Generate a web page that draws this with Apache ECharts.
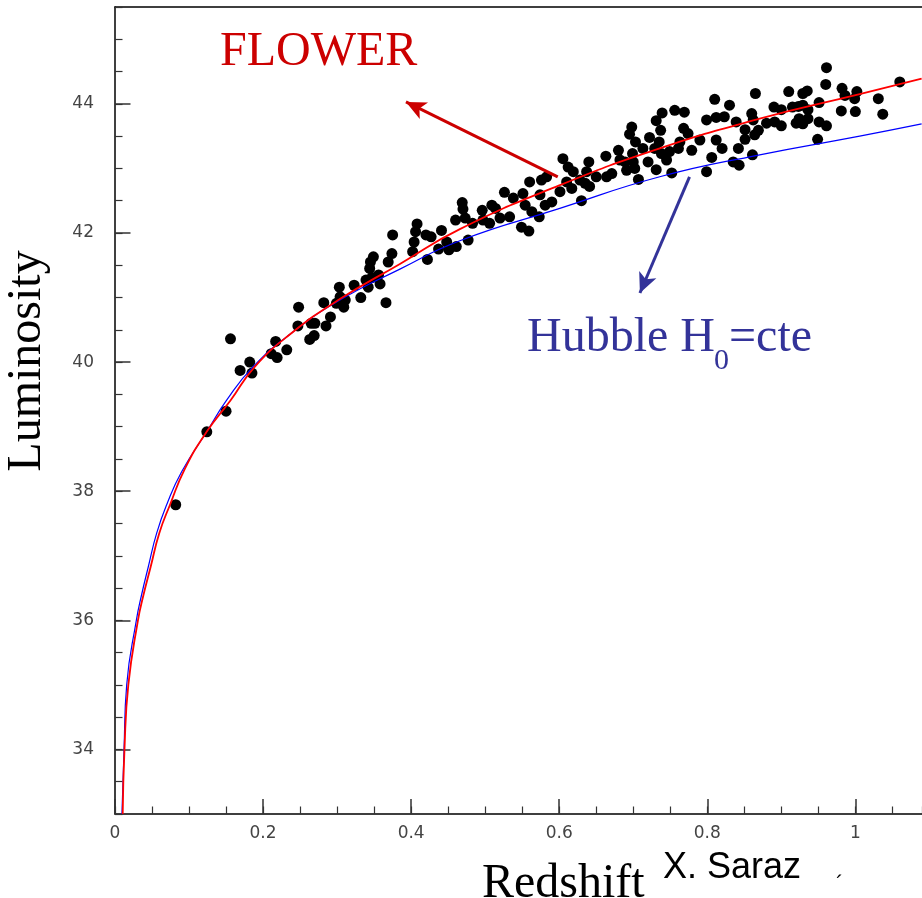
<!DOCTYPE html>
<html>
<head>
<meta charset="utf-8">
<script src="https://cdn.jsdelivr.net/npm/echarts@6/dist/echarts.min.js"></script>
<style>
  html, body { margin: 0; padding: 0; background: #fff; }
  #chart { width: 922px; height: 898px; }
</style>
</head>
<body>
<div id="chart"></div>
<script>
// supernova points: [redshift, luminosity]
const snPoints = [
  [0.082, 37.79], [0.124, 38.92], [0.150, 39.24], [0.156, 40.36], [0.169, 39.87],
  [0.182, 40.00], [0.185, 39.83], [0.211, 40.13], [0.217, 40.32], [0.219, 40.07],
  [0.232, 40.19], [0.247, 40.56], [0.248, 40.85], [0.263, 40.35], [0.269, 40.41],
  [0.265, 40.60], [0.270, 40.60], [0.282, 40.92], [0.291, 40.70], [0.285, 40.56],
  [0.299, 40.91], [0.303, 41.16], [0.304, 41.01], [0.311, 40.96], [0.309, 40.85],
  [0.323, 41.19], [0.332, 41.00], [0.339, 41.27], [0.342, 41.16], [0.347, 41.31],
  [0.358, 41.21], [0.356, 41.35], [0.344, 41.45], [0.349, 41.63], [0.345, 41.55],
  [0.366, 40.92], [0.369, 41.55], [0.374, 41.68], [0.375, 41.97], [0.402, 41.71],
  [0.404, 41.86], [0.406, 42.02], [0.408, 42.14], [0.420, 41.97], [0.427, 41.94],
  [0.422, 41.59], [0.437, 41.75], [0.441, 42.04], [0.448, 41.86], [0.451, 41.74],
  [0.461, 41.79], [0.460, 42.20], [0.469, 42.47], [0.470, 42.37], [0.473, 42.23],
  [0.477, 41.89], [0.483, 42.15], [0.496, 42.35], [0.497, 42.20], [0.509, 42.43],
  [0.514, 42.38], [0.506, 42.15], [0.520, 42.23], [0.533, 42.25], [0.526, 42.63],
  [0.538, 42.54], [0.549, 42.09], [0.559, 42.03], [0.551, 42.61], [0.554, 42.43],
  [0.560, 42.79], [0.563, 42.33], [0.573, 42.25], [0.576, 42.82], [0.574, 42.59],
  [0.583, 42.87], [0.590, 42.48], [0.581, 42.43], [0.605, 43.15], [0.612, 43.02],
  [0.619, 42.95], [0.610, 42.79], [0.601, 42.64], [0.617, 42.69], [0.630, 42.50],
  [0.640, 43.10], [0.637, 42.95], [0.641, 42.72], [0.650, 42.87], [0.663, 43.19],
  [0.664, 42.87], [0.635, 42.77], [0.628, 42.82], [0.671, 42.92], [0.680, 43.28],
  [0.682, 43.13], [0.691, 42.97], [0.689, 43.10], [0.699, 43.23], [0.700, 43.10],
  [0.702, 43.00], [0.707, 42.83], [0.695, 43.53], [0.698, 43.64], [0.703, 43.41],
  [0.713, 43.31], [0.720, 43.10], [0.722, 43.48], [0.729, 43.31], [0.731, 42.98],
  [0.735, 43.41], [0.738, 43.23], [0.745, 43.13], [0.749, 43.26], [0.752, 42.93],
  [0.737, 43.59], [0.731, 43.74], [0.739, 43.86], [0.756, 43.90], [0.769, 43.87],
  [0.768, 43.62], [0.774, 43.54], [0.763, 43.41], [0.761, 43.31], [0.779, 43.28],
  [0.790, 43.44], [0.799, 43.75], [0.806, 43.17], [0.799, 42.95], [0.810, 44.07],
  [0.812, 43.79], [0.823, 43.80], [0.830, 43.98], [0.812, 43.44], [0.820, 43.31],
  [0.835, 43.10], [0.843, 43.05], [0.842, 43.31], [0.839, 43.72], [0.851, 43.60],
  [0.851, 43.45], [0.860, 43.85], [0.864, 43.52], [0.861, 43.21], [0.865, 44.16],
  [0.862, 43.75], [0.869, 43.59], [0.880, 43.70], [0.890, 43.95], [0.891, 43.72],
  [0.900, 43.66], [0.900, 43.91], [0.910, 44.19], [0.915, 43.95], [0.923, 43.96],
  [0.929, 43.98], [0.920, 43.70], [0.924, 43.77], [0.929, 43.69], [0.936, 43.77],
  [0.936, 43.91], [0.929, 44.16], [0.935, 44.20], [0.949, 43.45], [0.951, 43.72],
  [0.961, 43.66], [0.951, 44.02], [0.960, 44.30], [0.961, 44.56], [0.982, 44.24],
  [0.986, 44.13], [0.981, 43.89], [0.999, 44.08], [1.002, 44.19], [1.000, 43.88],
  [1.031, 44.08], [1.037, 43.84], [1.060, 44.34]
];

// FLOWER model curve (red)
const flowerZ = [0.0104, 0.0128, 0.018, 0.031, 0.0382, 0.0482, 0.0598, 0.0743, 0.0945,
  0.1238, 0.1562, 0.189, 0.2386, 0.3015, 0.3848, 0.4658, 0.6008, 0.7358, 0.8708, 1.0058, 1.0895];
const flowerL = [33.0, 34.0, 35.0, 36.0, 36.38, 36.83, 37.35, 37.79, 38.35,
  38.92, 39.41, 39.93, 40.45, 40.96, 41.52, 42.06, 42.74, 43.31, 43.77, 44.15, 44.39];

// Hubble H0 = const curve (blue)
const hubbleZ = [0.0094, 0.0122, 0.0158, 0.0288, 0.036, 0.045, 0.0563, 0.0698, 0.090,
  0.1238, 0.1508, 0.1867, 0.2386, 0.3038, 0.3848, 0.4658, 0.6008, 0.7358, 0.8708, 1.0058, 1.0895];
const hubbleL = [33.0, 34.0, 35.0, 36.0, 36.40, 36.83, 37.35, 37.79, 38.30,
  38.92, 39.41, 39.93, 40.45, 40.96, 41.44, 41.88, 42.38, 42.87, 43.21, 43.50, 43.69];

const xMajorTicks = [0, 0.2, 0.4, 0.6, 0.8, 1];
const yMajorTicks = [34, 36, 38, 40, 42, 44];

// arrows pointing from the curves to their labels
const flowerArrow = [[0.598, 42.87], [0.393, 44.03]];
const hubbleArrow = [[0.776, 42.87], [0.709, 41.07]];

const zip = (a, b) => a.map((v, i) => [v, b[i]]);

const chart = echarts.init(document.getElementById('chart'));

const tickLabel = { color: '#444', fontFamily: 'DejaVu Sans', fontSize: 17 };

const option = {
  animation: false,
  backgroundColor: '#fff',
  grid: { left: 115, right: 0, top: 7, bottom: 84 },
  xAxis: [
    {
      type: 'value', min: 0, max: 1.09, position: 'bottom',
      axisLine: { lineStyle: { color: '#000', width: 1.5 } },
      axisTick: { inside: true, length: 15, customValues: xMajorTicks, lineStyle: { color: '#333', width: 1.5 } },
      axisLabel: Object.assign({ customValues: xMajorTicks, margin: 11 }, tickLabel),
      splitLine: { show: false }
    },
    {
      type: 'value', min: 0, max: 1.09, interval: 0.05, position: 'bottom',
      axisLine: { show: false },
      axisTick: { inside: true, length: 7.5, lineStyle: { color: '#333', width: 1.2 } },
      axisLabel: { show: false },
      splitLine: { show: false }
    },
    {
      type: 'value', min: 0, max: 1.09, position: 'top',
      axisLine: { lineStyle: { color: '#000', width: 1.5 } },
      axisTick: { show: false }, axisLabel: { show: false }, splitLine: { show: false }
    }
  ],
  yAxis: [
    {
      type: 'value', min: 33, max: 45.5, position: 'left',
      axisLine: { show: true, lineStyle: { color: '#000', width: 1.5 } },
      axisTick: { show: true, inside: true, length: 15.5, customValues: yMajorTicks, lineStyle: { color: '#333', width: 1.5 } },
      axisLabel: Object.assign({ customValues: yMajorTicks, margin: 21 }, tickLabel),
      splitLine: { show: false }
    },
    {
      type: 'value', min: 33, max: 45.5, interval: 0.5, position: 'left',
      axisLine: { show: false },
      axisTick: { show: true, inside: true, length: 7.5, lineStyle: { color: '#333', width: 1.2 } },
      axisLabel: { show: false },
      splitLine: { show: false }
    }
  ],
  series: [
    {
      type: 'scatter',
      data: snPoints,
      symbol: 'circle',
      symbolSize: 11,
      itemStyle: { color: '#000', opacity: 1 },
      z: 2
    },
    {
      type: 'line',
      data: zip(hubbleZ, hubbleL),
      smooth: 0.5,
      showSymbol: false,
      lineStyle: { color: '#0000ff', width: 1.2 },
      z: 3,
      markLine: {
        silent: true, symbol: ['none', 'arrow'], symbolSize: [14, 20],
        label: { show: false },
        lineStyle: { color: '#333399', width: 3, type: 'solid' },
        data: [[{ coord: hubbleArrow[0] }, { coord: hubbleArrow[1] }]]
      }
    },
    {
      type: 'line',
      data: zip(flowerZ, flowerL),
      smooth: 0.5,
      showSymbol: false,
      lineStyle: { color: '#ff0000', width: 1.8 },
      z: 4,
      markLine: {
        silent: true, symbol: ['none', 'arrow'], symbolSize: [14, 20],
        label: { show: false },
        lineStyle: { color: '#cc0000', width: 3, type: 'solid' },
        data: [[{ coord: flowerArrow[0] }, { coord: flowerArrow[1] }]]
      }
    }
  ],
  graphic: [
    { type: 'text', left: 220, top: 28, style: { text: 'FLOWER', fill: '#cc0000', font: '48px "Liberation Serif"' } },
    { type: 'text', x: 527, y: 362, style: { text: 'Hubble H', fill: '#333399', font: '48px "Liberation Serif"', textVerticalAlign: 'bottom' } },
    { type: 'text', x: 714, y: 376, style: { text: '0', fill: '#333399', font: '30px "Liberation Serif"', textVerticalAlign: 'bottom' } },
    { type: 'text', x: 729, y: 362, style: { text: '=cte', fill: '#333399', font: '48px "Liberation Serif"', textVerticalAlign: 'bottom' } },
    { type: 'text', x: 27, y: 361, rotation: Math.PI / 2, style: { text: 'Luminosity', fill: '#000', font: '48px "Liberation Serif"', textAlign: 'center', textVerticalAlign: 'middle' } },
    { type: 'text', x: 482, y: 908, style: { text: 'Redshift', fill: '#000', font: '48px "Liberation Serif"', textVerticalAlign: 'bottom' } },
    { type: 'text', x: 663, y: 886, style: { text: 'X. Saraz', fill: '#000', font: '36px "Liberation Sans"', textVerticalAlign: 'bottom' } },
    { type: 'text', x: 836, y: 874, style: { text: '\u00b4', fill: '#000', font: '22px "Liberation Sans"' } }
  ]
};

chart.setOption(option);
</script>
</body>
</html>
